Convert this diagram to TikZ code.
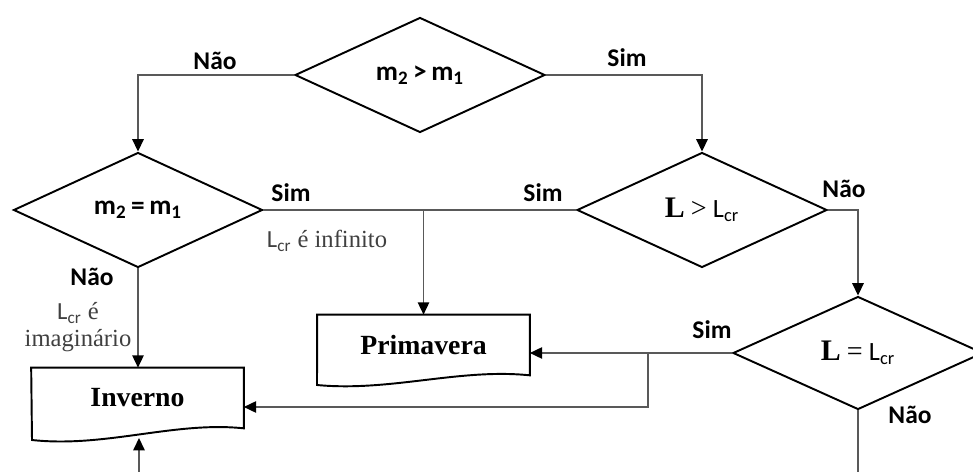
\documentclass[tikz,border=0pt]{standalone}
\usepackage{fontspec}
\setmainfont{Liberation Serif}
\newfontfamily\calibri{Carlito}
\usetikzlibrary{shapes.geometric,arrows.meta}
\tikzset{
  decision/.style={diamond,draw,line width=1.1pt,aspect=2,inner sep=0pt,
    minimum width=5.0cm,minimum height=2.3cm,
    font=\calibri\bfseries\fontsize{15.5}{17}\selectfont},
  answer/.style={font=\calibri\bfseries\fontsize{14.5}{16}\selectfont},
  note/.style={font=\fontsize{14}{15.5}\selectfont,text=black!75,align=center,inner sep=0pt},
  flow/.style={draw=black!65,line width=0.75pt},
  flowarrow/.style={flow,-{Triangle[length=7pt,width=6.5pt,color=black]}},
  docbox/.style={minimum width=4.24cm,minimum height=1.2cm,inner sep=0pt,
    font=\bfseries\fontsize{15.8}{18}\selectfont}
}
\begin{document}
\begin{tikzpicture}[x=0.02cm,y=-0.02cm]
  \useasboundingbox (0,0) rectangle (973,472);
  % decisions
  \node[decision] (mgt) at (420,75) {m\textsubscript{2}\,>\,m\textsubscript{1}};
  \node[decision,minimum width=4.98cm] (meq) at (138,210) {m\textsubscript{2}\,=\,m\textsubscript{1}};
  \node[decision,minimum width=5.0cm] (lgt) at (702,210)
    {{\rmfamily\bfseries\fontsize{17}{18}\selectfont L} {\rmfamily\mdseries\fontsize{16}{18}\selectfont >} {\mdseries\fontsize{15}{17}\selectfont L\textsubscript{cr}}};
  \node[decision,minimum width=5.0cm,minimum height=2.26cm] (leq) at (858,353)
    {{\rmfamily\bfseries\fontsize{17}{18}\selectfont L} {\rmfamily\mdseries\fontsize{16}{18}\selectfont =} {\mdseries\fontsize{15}{17}\selectfont L\textsubscript{cr}}};
  % documents
  \node[docbox] (prim) at (423.5,345) {Primavera};
  \node[docbox] (inv) at (137.5,398) {Inverno};
  \draw[line width=1.1pt] (prim.north west) -- (prim.north east) -- (prim.south east)
    .. controls (460,368) and (390,392) .. (317,385) -- cycle;
  \draw[line width=1.1pt] (inv.north west) -- (inv.north east) -- (inv.south east)
    .. controls (175,421) and (105,448) .. (32,440) -- cycle;
  % connectors
  \coordinate (j1) at (423.5,210);
  \coordinate (j2) at (648,353);
  \coordinate (k) at (648,407);
  \coordinate (invwave) at (139,438);
  \coordinate (invfoot) at (139,472);
  \coordinate (leqfoot) at (858,472);
  \draw[flowarrow] (mgt.west) -| (meq.north);
  \draw[flowarrow] (mgt.east) -| (lgt.north);
  \draw[flow] (meq.east) -- (lgt.west);
  \draw[flowarrow] (j1) -- (prim.north);
  \draw[flowarrow] (meq.south) -- (meq.south |- inv.north);
  \draw[flowarrow] (lgt.east) -| (leq.north);
  \draw[flowarrow] (leq.west) -- (leq.west -| prim.east);
  \draw[flowarrow] (j2) -- (k) -- (k -| inv.east);
  \draw[flowarrow] (invfoot) -- (invwave);
  \draw[flow] (leq.south) -- (leqfoot);
  % labels
  \node[answer] (n1) at (215,61) {Não};
  \node[answer] (s1) at (627,58) {Sim};
  \node[answer] (s2) at (291,193) {Sim};
  \node[answer] (s3) at (543,193) {Sim};
  \node[answer] (n2) at (844,189) {Não};
  \node[answer] (n3) at (92,277) {Não};
  \node[answer] (s4) at (712,330) {Sim};
  \node[answer] (n4) at (910,415) {Não};
  \node[note] (infin) at (327,241) {{\calibri L\textsubscript{cr}} é infinito};
  \node[note] (imag) at (78,327) {{\calibri L\textsubscript{cr}} é\\imaginário};
\end{tikzpicture}
\end{document}
